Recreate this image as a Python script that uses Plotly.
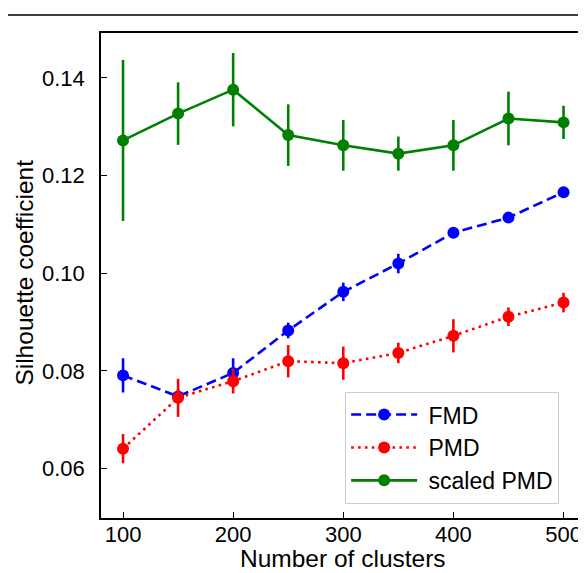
import plotly.graph_objects as go

clusters = [100, 150, 200, 250, 300, 350, 400, 450, 500]

fmd = [0.0791, 0.0748, 0.0796, 0.0883, 0.0962, 0.1020, 0.1083, 0.1114, 0.1166]
fmd_err = [0.0035, 0.0015, 0.0030, 0.0016, 0.0019, 0.0020, 0.0008, 0.0008, 0.0010]

pmd = [0.0641, 0.0745, 0.0779, 0.0820, 0.0816, 0.0837, 0.0872, 0.0911, 0.0940]
pmd_err = [0.0030, 0.0039, 0.0025, 0.0033, 0.0034, 0.0021, 0.0034, 0.0019, 0.0020]

scaled_pmd = [0.1272, 0.1327, 0.1376, 0.1283, 0.1262, 0.1245, 0.1262, 0.1317, 0.1309]
scaled_pmd_err = [0.0165, 0.0064, 0.0075, 0.0063, 0.0052, 0.0035, 0.0052, 0.0055, 0.0034]

x_ticks = [100, 200, 300, 400, 500]
y_ticks = [0.06, 0.08, 0.10, 0.12, 0.14]
y_tick_text = ["0.06", "0.08", "0.10", "0.12", "0.14"]

x_title = "Number of clusters"
y_title = "Silhouette coefficient"

FONT = "Liberation Sans, Arial, sans-serif"

def series(name, y, err, color, dash):
    return go.Scatter(
        x=clusters, y=y, name=" " + name, mode="lines+markers",
        line=dict(color=color, width=2.6, dash=dash),
        marker=dict(color=color, size=12, symbol="circle"),
        error_y=dict(type="data", array=err, visible=True, color=color,
                     thickness=2.6, width=0),
    )

fig = go.Figure()
fig.add_trace(series("FMD", fmd, fmd_err, "#0000ff", "10px,5px"))
fig.add_trace(series("PMD", pmd, pmd_err, "#ff0000", "2.6px,4.3px"))
fig.add_trace(series("scaled PMD", scaled_pmd, scaled_pmd_err, "#008000", "solid"))

# the page body adds an 8px offset, so the figure is sized to fill the rest
fig.update_layout(
    width=578, height=565,
    margin=dict(l=93, r=1, t=25, b=55),
    paper_bgcolor="white", plot_bgcolor="white",
    font=dict(family=FONT, size=22, color="black"),
    showlegend=True,
    legend=dict(
        x=0.504, y=0.26, xanchor="left", yanchor="top",
        bgcolor="white", bordercolor="#cccccc", borderwidth=1.2,
        font=dict(family=FONT, size=23, color="black"),
        itemwidth=66,
    ),
    shapes=[dict(type="line", xref="paper", yref="paper",
                 x0=-0.25, x1=1.05, y0=1.0371, y1=1.0371,
                 line=dict(color="black", width=1.6))],
    annotations=[
        dict(text=x_title, xref="paper", yref="paper", x=0.5, y=-0.0825,
             xanchor="center", yanchor="middle", showarrow=False,
             font=dict(family=FONT, size=24.5, color="black")),
        dict(text=y_title, xref="paper", yref="paper", x=-0.158, y=0.505,
             xanchor="center", yanchor="middle", showarrow=False,
             textangle=-90,
             font=dict(family=FONT, size=24.5, color="black")),
    ],
)

fig.update_xaxes(
    range=[80, 519.5], tickvals=x_ticks, ticks="inside", ticklen=6,
    tickwidth=1.2, tickcolor="black",
    showline=True, linecolor="black", linewidth=1.5, mirror=True,
    showgrid=False, zeroline=False, automargin=False,
    tickfont=dict(family=FONT, size=22),
    ticklabelstandoff=-4,
)
fig.update_yaxes(
    range=[0.0499, 0.1492], tickvals=y_ticks, ticktext=y_tick_text,
    ticks="inside", ticklen=6, tickwidth=1.2, tickcolor="black",
    showline=True, linecolor="black", linewidth=1.5, mirror=True,
    showgrid=False, zeroline=False, automargin=False,
    tickfont=dict(family=FONT, size=22),
    ticklabelstandoff=10,
)

fig.write_html("out.html")
